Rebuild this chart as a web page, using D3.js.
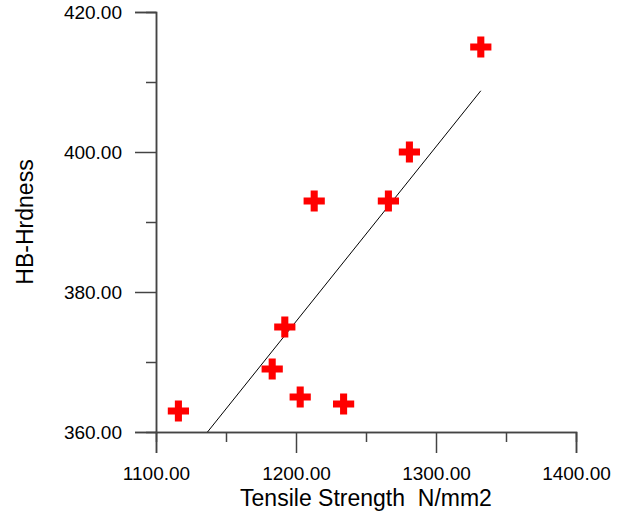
<!DOCTYPE html>
<html>
<head>
<meta charset="utf-8">
<script src="https://cdn.jsdelivr.net/npm/d3@7"></script>
<style>
    body { margin: 0; background: #fff; }
    text { font-family: "Liberation Sans", Arial, sans-serif; fill: #000; }
</style>
</head>
<body>
<div id="chart"></div>
<script>
(function() {
    // tensile strength (N/mm2) and HB hardness
    var tensile = [1116, 1183, 1192, 1203, 1213, 1234, 1266, 1281, 1332];
    var hardness = [363, 369, 375, 365, 393, 364, 393, 400, 415];

    var xMajor = [1100, 1200, 1300, 1400];
    var xMinor = [1150, 1250, 1350];
    var yMajor = [360, 380, 400, 420];
    var yMinor = [370, 390, 410];

    var width = 619, height = 515;
    var x = d3.scaleLinear().domain([1100, 1400]).range([156, 576]);
    var y = d3.scaleLinear().domain([360, 420]).range([432, 12]);

    var svg = d3.select("#chart").append("svg")
        .attr("width", width)
        .attr("height", height);

    var axisColor = "#444";

    // x axis
    var gx = svg.append("g").attr("transform", "translate(0," + y(360) + ")");
    gx.call(d3.axisBottom(x).tickValues(xMajor).tickSize(21).tickPadding(14)
        .tickFormat(d3.format(".2f")));
    gx.append("g").call(d3.axisBottom(x).tickValues(xMinor).tickSize(10).tickFormat(""));

    // y axis
    var gy = svg.append("g").attr("transform", "translate(" + x(1100) + ",0)");
    gy.call(d3.axisLeft(y).tickValues(yMajor).tickSize(21).tickPadding(13)
        .tickFormat(d3.format(".2f")));
    gy.append("g").call(d3.axisLeft(y).tickValues(yMinor).tickSize(10).tickFormat(""));

    svg.selectAll(".domain").attr("stroke", axisColor).attr("stroke-width", 1.5);
    svg.selectAll(".tick line").attr("stroke", axisColor).attr("stroke-width", 1.5);
    svg.selectAll(".tick text")
        .style("font-family", "'Liberation Sans', Arial, sans-serif")
        .style("font-size", "19px")
        .attr("fill", "#000");

    // least squares line, from the bottom of the plot to the largest strength
    var mx = d3.mean(tensile), my = d3.mean(hardness);
    var sxy = d3.sum(tensile, (t, i) => (t - mx) * (hardness[i] - my));
    var sxx = d3.sum(tensile, t => (t - mx) * (t - mx));
    var slope = sxy / sxx, icpt = my - slope * mx;
    var x0 = (360 - icpt) / slope, x1 = d3.max(tensile);

    svg.append("line")
        .attr("x1", x(x0)).attr("y1", y(slope * x0 + icpt))
        .attr("x2", x(x1)).attr("y2", y(slope * x1 + icpt))
        .attr("stroke", "#000")
        .attr("stroke-width", 1);

    // points
    svg.selectAll("path.pt")
        .data(tensile)
        .enter().append("path")
        .attr("class", "pt")
        .attr("d", d3.symbol().type(d3.symbolCross).size(250))
        .attr("transform", (d, i) => "translate(" + x(d) + "," + y(hardness[i]) + ")")
        .attr("fill", "#ff0000");

    // titles
    svg.append("text")
        .attr("x", x(1250))
        .attr("y", 506)
        .attr("text-anchor", "middle")
        .style("font-size", "23px")
        .style("white-space", "pre")
        .text("Tensile Strength  N/mm2");

    svg.append("text")
        .attr("transform", "translate(33," + y(390) + ") rotate(-90)")
        .attr("text-anchor", "middle")
        .style("font-size", "23px")
        .text("HB-Hrdness");
})();
</script>
</body>
</html>
